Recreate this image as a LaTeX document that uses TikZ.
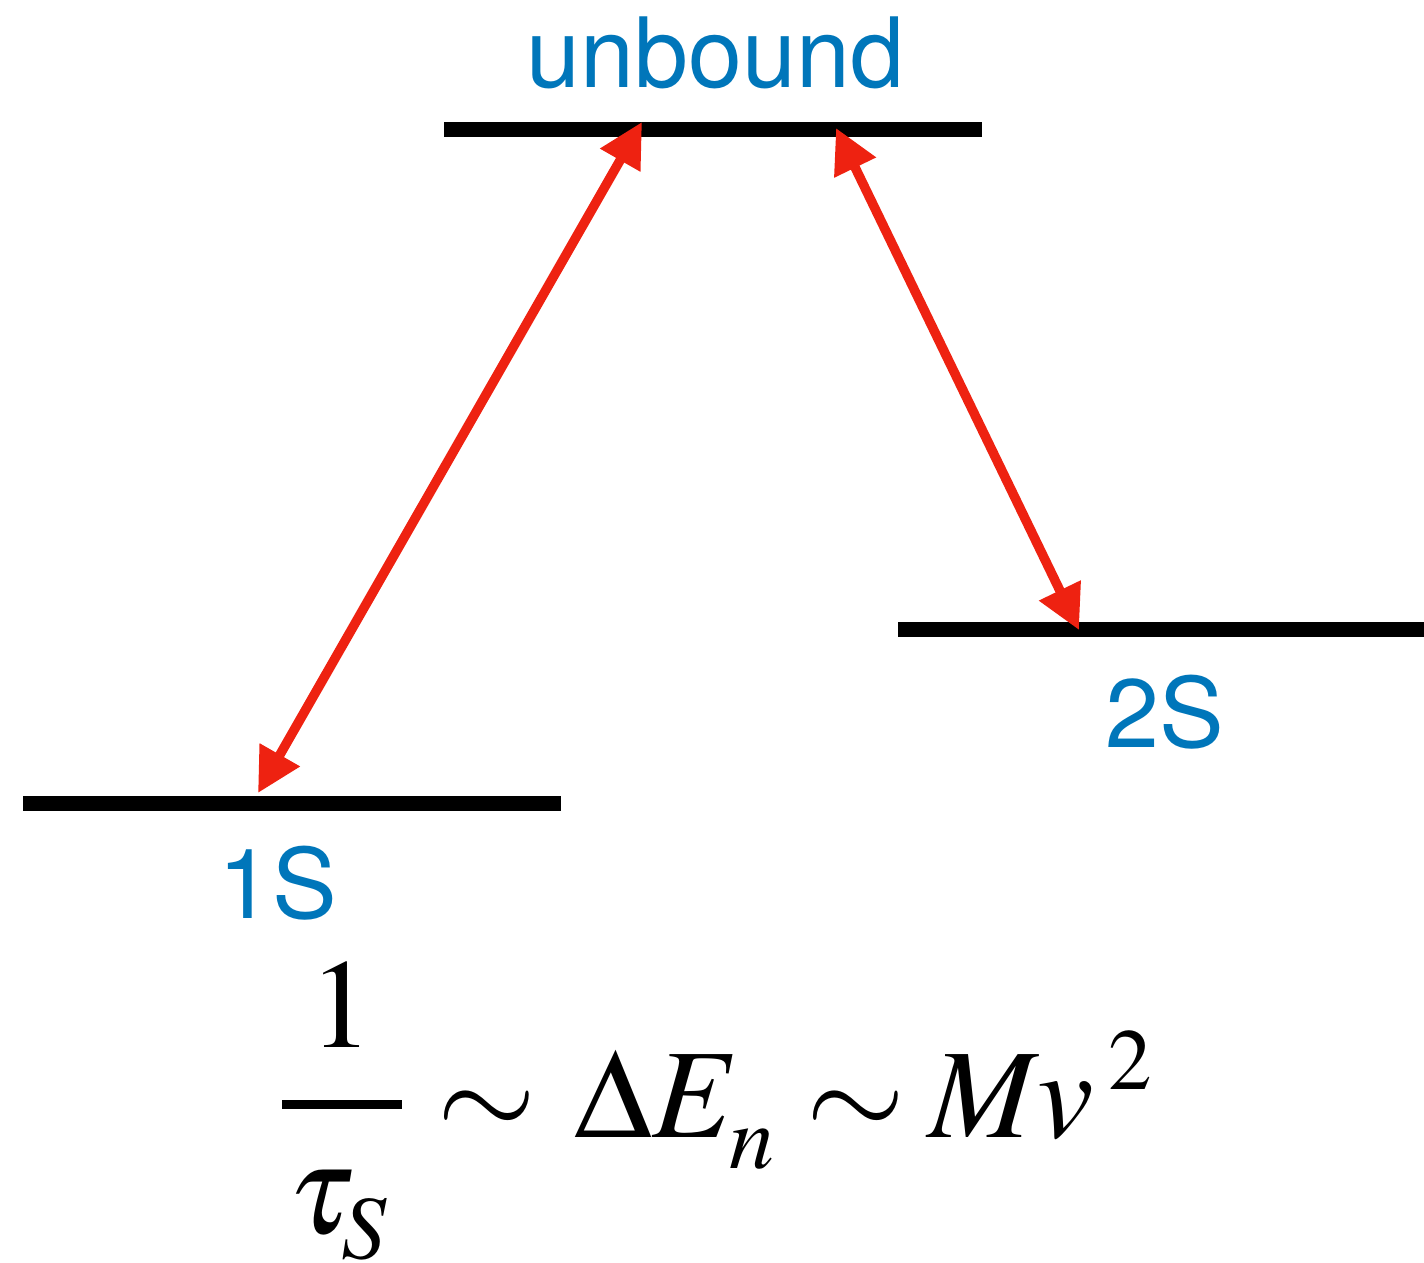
\documentclass[tikz,border=0pt]{standalone}
\usepackage{amsmath}
\usepackage{mathptmx}
\usepackage[no-math]{fontspec}
\newfontfamily\helv{TeX Gyre Heros}
\usetikzlibrary{arrows.meta}
\definecolor{lblblue}{RGB}{0,118,186}
\definecolor{arrred}{RGB}{238,34,17}
\tikzset{
  level/.style={line width=15pt, black},
  trans/.style={line width=9.5pt, arrred, {Triangle[length=44pt,width=44pt]}-{Triangle[length=44pt,width=44pt]}},
  lbl/.style={inner sep=0pt, anchor=base, text=lblblue, font=\helv\fontsize{97}{97}\selectfont},
  big/.style={inner sep=0pt, anchor=base, font=\fontsize{127}{127}\selectfont},
  small/.style={inner sep=0pt, anchor=base, font=\fontsize{90}{90}\selectfont},
  sup/.style={inner sep=0pt, anchor=base, font=\fontsize{87}{87}\selectfont}
}
\begin{document}
\begin{tikzpicture}[x=1pt,y=-1pt]
\useasboundingbox (0,0) rectangle (1424,1262);
% levels
\coordinate (uL) at (444,129);
\coordinate (uR) at (982,129);
\coordinate (sL) at (23,803);
\coordinate (sR) at (561,803);
\coordinate (tL) at (898,629);
\coordinate (tR) at (1424,629);
\draw[level] (uL) -- (uR);
\draw[level] (sL) -- (sR);
\draw[level] (tL) -- (tR);
% labels
\node[lbl] (unb) at (715.5,87) {unbound};
\node[lbl] (twoS) at (1164.5,747) {2S};
\node[lbl] (oneS) at (278,918) {1S};
% arrow ends
\coordinate (a1) at (258,793);
\coordinate (a2) at (642,122);
\coordinate (b1) at (836,128);
\coordinate (b2) at (1079,630);
\draw[trans] (a1) -- (a2);
\draw[trans] (b1) -- (b2);
% formula
\node[big] (one) at (341.5,1047) {$1$};
\coordinate (barL) at (282,1104.5);
\coordinate (barR) at (402,1104.5);
\draw[line width=9.5pt] (barL) -- (barR);
\node[big] (tau) at (322,1233) {$\tau$};
\node[small] (subS) at (364,1258) {$S$};
\node[big] (sim1) at (487,1137) {$\sim$};
\node[big] (Delta) at (613,1137) {$\Delta$};
\node[big] (E) at (696,1137) {$E$};
\node[small] (subn) at (752,1168) {$n$};
\node[big] (sim2) at (856,1137) {$\sim$};
\node[big] (M) at (984,1137) {$M$};
\node[big] (v) at (1066,1137) {$v$};
\node[sup] (two) at (1130,1089) {$2$};
\end{tikzpicture}
\end{document}
